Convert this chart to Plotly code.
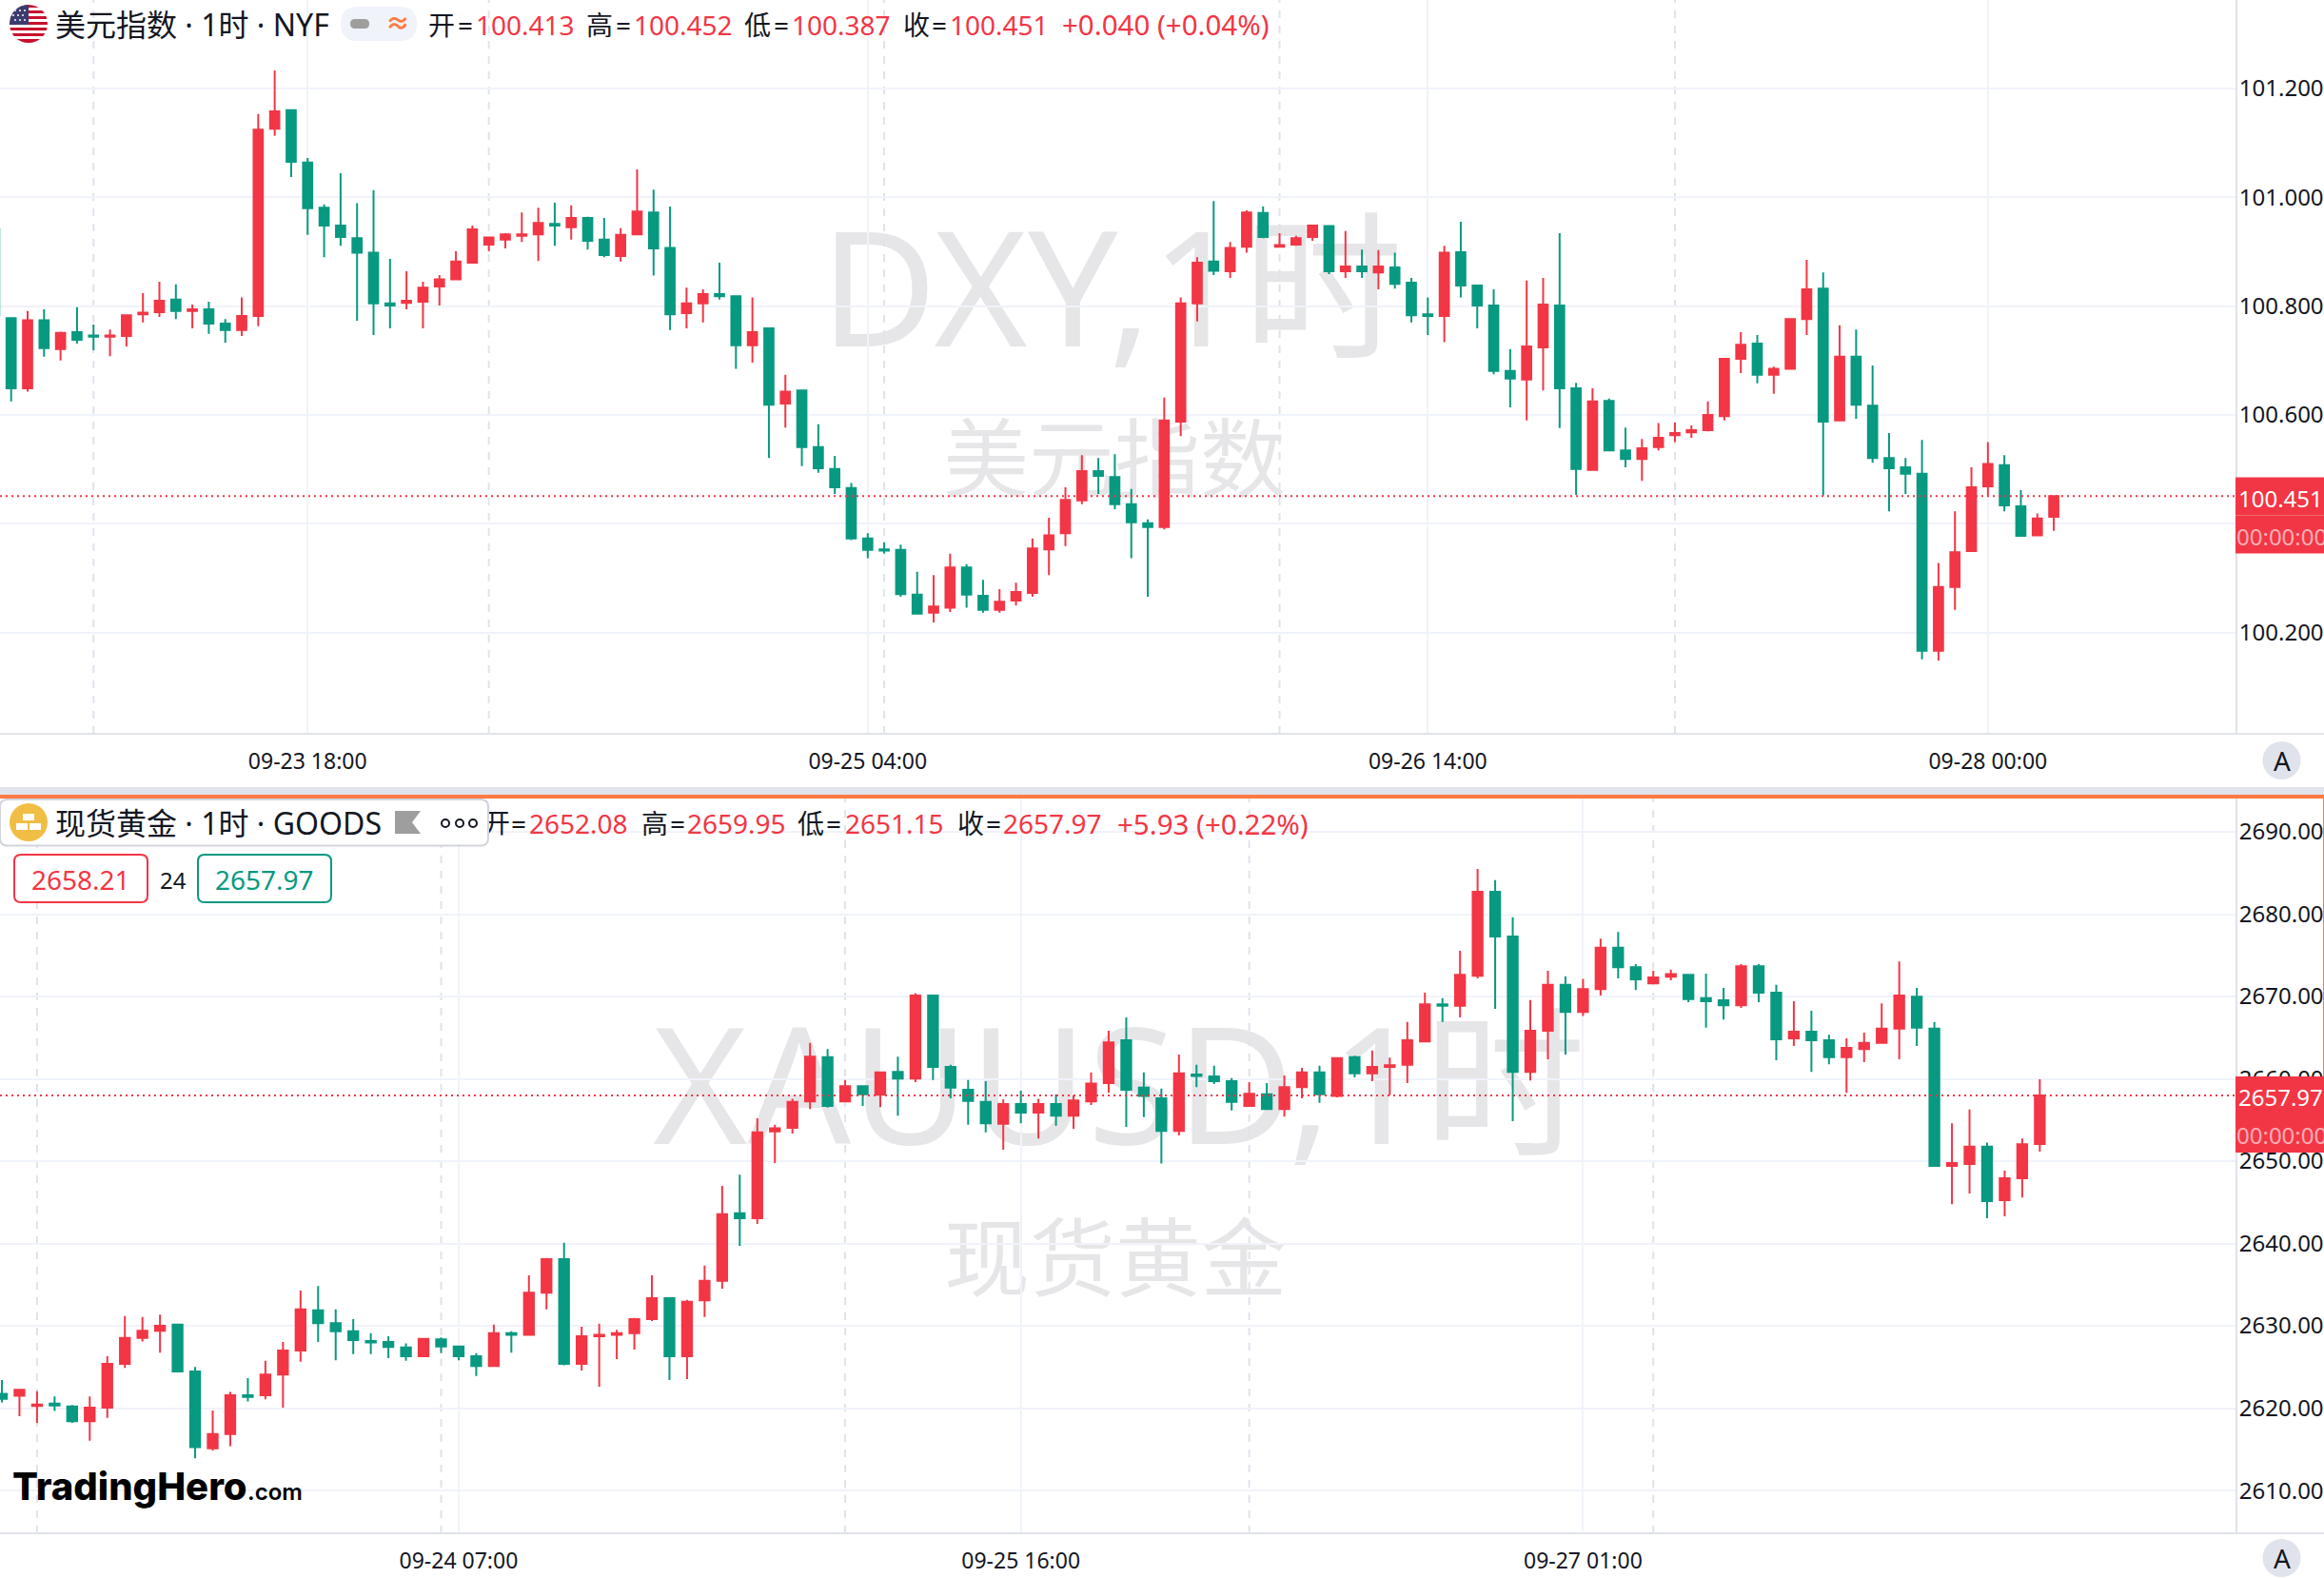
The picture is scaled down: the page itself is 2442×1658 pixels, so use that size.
import base64
import plotly.graph_objects as go

W, H = 2442, 1658

# ---------- data ----------
dxy_hours = list(range(-1, 125))
dxy_open = [
100.941,100.778,100.649,100.774,100.721,100.752,100.746,100.744,100.745,100.785,
100.789,100.812,100.791,100.794,100.768,100.756,100.782,101.126,101.160,101.064,
100.981,100.948,100.925,100.898,100.805,100.806,100.808,100.836,100.849,100.880,
100.913,100.922,100.929,100.932,100.951,100.945,100.962,100.922,100.892,100.932,
100.972,100.907,100.787,100.805,100.822,100.818,100.728,100.759,100.621,100.645,
100.541,100.501,100.466,100.373,100.353,100.352,100.270,100.237,100.246,100.320,
100.268,100.242,100.259,100.273,100.353,100.383,100.443,100.497,100.486,100.436,
100.401,100.394,100.588,100.805,100.882,100.864,100.909,100.971,100.909,100.913,
100.927,100.947,100.864,100.873,100.862,100.871,100.843,100.785,100.782,100.899,
100.838,100.801,100.681,100.665,100.724,100.801,100.649,100.499,100.626,100.535,
100.519,100.541,100.563,100.568,100.572,100.598,100.703,100.731,100.674,100.685,
100.776,100.832,100.590,100.707,100.617,100.521,100.504,100.492,100.167,100.284,
100.350,100.469,100.508,100.432,100.379,100.413]
dxy_high = [
100.941,100.779,100.791,100.794,100.753,100.798,100.766,100.757,100.783,100.824,
100.845,100.840,100.803,100.808,100.776,100.816,101.153,101.233,101.160,101.072,
100.987,101.044,100.989,101.013,100.887,100.864,100.845,100.857,100.901,100.948,
100.926,100.934,100.972,100.981,100.990,100.985,100.964,100.962,100.943,101.051,
101.014,100.983,100.834,100.831,100.880,100.818,100.816,100.759,100.674,100.645,
100.583,100.525,100.475,100.383,100.366,100.362,100.312,100.306,100.345,100.326,
100.297,100.280,100.292,100.373,100.411,100.467,100.526,100.521,100.528,100.464,
100.408,100.632,100.816,100.890,100.993,100.918,100.976,100.983,100.934,100.929,
100.949,100.949,100.938,100.904,100.903,100.898,100.852,100.816,100.911,100.955,
100.838,100.831,100.721,100.847,100.852,100.934,100.659,100.649,100.630,100.577,
100.556,100.585,100.586,100.581,100.625,100.705,100.752,100.747,100.689,100.778,
100.885,100.862,100.765,100.757,100.691,100.567,100.521,100.554,100.328,100.423,
100.504,100.550,100.526,100.462,100.419,100.452]
dxy_low = [
100.778,100.625,100.643,100.707,100.700,100.731,100.719,100.708,100.726,100.770,
100.780,100.776,100.759,100.749,100.733,100.745,100.763,101.113,101.037,100.931,
100.890,100.911,100.773,100.747,100.759,100.794,100.759,100.801,100.849,100.880,
100.901,100.906,100.918,100.883,100.911,100.922,100.904,100.890,100.882,100.932,
100.856,100.756,100.759,100.770,100.812,100.685,100.696,100.521,100.577,100.506,
100.494,100.455,100.370,100.337,100.345,100.266,100.235,100.219,100.238,100.246,
100.237,100.237,100.250,100.266,100.306,100.359,100.436,100.455,100.427,100.337,
100.266,100.390,100.561,100.772,100.857,100.852,100.898,100.925,100.909,100.911,
100.920,100.859,100.852,100.852,100.831,100.832,100.770,100.747,100.734,100.816,
100.759,100.675,100.614,100.590,100.645,100.576,100.453,100.499,100.534,100.504,
100.479,100.535,100.550,100.558,100.570,100.590,100.677,100.658,100.639,100.685,
100.747,100.452,100.590,100.593,100.512,100.423,100.455,100.151,100.149,100.242,
100.350,100.452,100.423,100.378,100.377,100.387]
dxy_close = [
100.783,100.649,100.774,100.723,100.751,100.738,100.744,100.746,100.783,100.788,
100.810,100.791,100.794,100.768,100.756,100.782,101.124,101.158,101.065,100.980,
100.948,100.927,100.898,100.805,100.801,100.810,100.834,100.849,100.882,100.941,
100.926,100.932,100.932,100.953,100.948,100.962,100.920,100.894,100.931,100.974,
100.906,100.785,100.805,100.822,100.818,100.728,100.752,100.619,100.643,100.541,
100.502,100.467,100.373,100.352,100.351,100.271,100.235,100.248,100.320,100.270,
100.242,100.257,100.275,100.355,100.379,100.444,100.497,100.488,100.436,100.403,
100.394,100.590,100.805,100.880,100.865,100.907,100.972,100.927,100.912,100.925,
100.948,100.864,100.873,100.864,100.873,100.841,100.783,100.782,100.898,100.838,
100.801,100.681,100.667,100.726,100.803,100.649,100.501,100.625,100.535,100.519,
100.539,100.558,100.567,100.572,100.600,100.703,100.729,100.674,100.685,100.776,
100.831,100.588,100.707,100.619,100.521,100.502,100.492,100.167,100.284,100.348,
100.467,100.510,100.434,100.378,100.410,100.451]

gold_open = [
2621.75,2621.50,2620.26,2620.57,2620.20,2618.41,2620.08,2625.39,2628.54,2629.40,
2630.15,2624.46,2615.14,2616.87,2621.56,2621.56,2624.09,2627.00,2631.88,2630.33,
2629.34,2628.17,2628.05,2627.37,2626.32,2628.35,2627.49,2626.32,2625.14,2629.10,
2628.91,2634.04,2638.11,2625.39,2628.73,2628.91,2629.10,2630.83,2633.36,2626.32,
2633.11,2635.46,2643.67,2643.06,2653.62,2654.05,2657.26,2662.64,2657.26,2659.12,
2658.07,2660.85,2660.04,2670.11,2661.46,2658.68,2657.20,2654.54,2656.95,2655.90,
2656.95,2655.53,2657.26,2659.49,2664.68,2658.93,2657.63,2653.68,2660.54,2660.29,
2659.73,2656.71,2658.13,2656.34,2658.99,2660.78,2657.94,2662.64,2660.66,2661.46,
2661.71,2664.55,2669.06,2668.88,2672.52,2682.71,2677.28,2660.85,2665.85,2671.41,
2668.13,2670.91,2675.92,2673.57,2671.59,2672.40,2672.64,2669.80,2669.55,2668.94,
2673.69,2670.48,2664.92,2665.73,2664.68,2662.64,2663.63,2664.37,2666.10,2669.99,
2666.10,2649.42,2649.67,2651.77,2645.28,2647.94,2652.08]
gold_high = [
2623.41,2622.30,2622.05,2621.44,2620.39,2621.44,2626.32,2631.20,2631.07,2631.38,
2630.15,2625.02,2619.71,2621.99,2623.66,2625.76,2628.05,2634.29,2634.84,2632.00,
2630.83,2629.10,2628.73,2627.86,2628.54,2628.60,2627.49,2626.69,2630.15,2629.34,
2636.14,2638.24,2640.09,2629.90,2630.27,2629.53,2630.95,2636.14,2633.36,2633.17,
2637.31,2647.01,2648.37,2655.22,2654.42,2657.57,2664.37,2663.63,2659.86,2659.18,
2660.85,2662.70,2670.42,2670.24,2661.71,2659.86,2659.73,2657.51,2658.56,2657.57,
2658.13,2658.00,2660.78,2665.85,2667.46,2660.78,2658.81,2662.95,2661.71,2661.59,
2660.10,2659.61,2659.49,2660.41,2661.34,2661.59,2662.51,2662.82,2663.44,2662.58,
2666.90,2670.48,2669.80,2675.55,2685.49,2684.13,2679.62,2669.56,2673.14,2672.46,
2672.15,2677.03,2677.83,2673.94,2673.14,2673.26,2672.64,2672.77,2671.04,2673.94,
2673.94,2671.41,2669.43,2668.26,2665.35,2664.92,2665.60,2669.18,2674.25,2671.04,
2666.90,2654.61,2656.27,2652.26,2648.86,2652.75,2659.95]
gold_low = [
2620.70,2619.03,2618.22,2619.65,2618.22,2616.06,2618.84,2624.90,2628.11,2626.75,
2624.46,2613.90,2614.83,2615.38,2620.82,2621.07,2620.08,2625.64,2628.05,2625.82,
2626.56,2626.56,2626.07,2625.76,2626.19,2626.69,2625.82,2623.91,2625.02,2626.75,
2628.91,2632.00,2625.20,2624.59,2622.61,2625.95,2627.12,2630.58,2623.41,2623.54,
2631.07,2634.53,2639.72,2642.38,2649.79,2653.37,2656.34,2656.52,2657.26,2656.71,
2656.58,2655.53,2659.61,2659.86,2657.63,2654.42,2653.50,2651.39,2654.61,2652.75,
2654.30,2653.93,2656.83,2658.31,2654.17,2655.35,2649.73,2653.12,2658.99,2659.36,
2656.15,2656.71,2656.21,2655.41,2657.63,2657.08,2657.76,2660.17,2659.73,2658.00,
2659.49,2664.55,2666.90,2667.46,2672.21,2668.50,2654.85,2659.80,2662.39,2662.95,
2667.64,2670.11,2672.21,2670.79,2671.59,2671.96,2669.31,2666.22,2667.21,2668.63,
2669.31,2662.27,2664.00,2660.85,2661.77,2658.31,2662.02,2664.37,2662.39,2664.00,
2649.42,2644.79,2646.08,2643.06,2643.30,2645.59,2651.15]
gold_close = [
2621.13,2622.24,2620.45,2620.32,2618.41,2620.08,2625.39,2628.54,2629.40,2630.02,
2624.46,2615.26,2616.87,2621.56,2621.38,2624.09,2627.00,2632.00,2630.33,2629.34,
2628.29,2627.98,2627.43,2626.32,2628.42,2627.49,2626.32,2625.14,2629.10,2628.91,
2634.04,2638.11,2625.39,2628.73,2628.91,2629.10,2630.83,2633.36,2626.32,2632.93,
2635.46,2643.55,2643.06,2653.50,2653.99,2657.20,2662.70,2656.71,2659.12,2658.13,
2660.78,2660.04,2670.11,2661.46,2658.93,2657.32,2654.61,2656.95,2655.90,2656.95,
2655.53,2657.39,2659.43,2664.43,2658.68,2657.94,2653.68,2660.66,2660.35,2659.73,
2657.20,2658.19,2656.34,2658.99,2660.78,2658.13,2662.51,2660.66,2661.46,2661.65,
2664.68,2669.06,2668.88,2672.64,2682.71,2677.28,2660.85,2665.85,2671.41,2668.13,
2670.91,2675.92,2673.57,2672.09,2672.33,2672.71,2669.68,2669.43,2668.94,2673.69,
2670.48,2664.80,2665.73,2664.68,2662.64,2663.75,2664.37,2666.10,2670.11,2666.22,
2649.42,2649.79,2651.77,2645.16,2647.94,2652.07,2657.97]
gold_bars = list(range(len(gold_open)))

dxy_tick_bars = [18, 52, 86, 120]
dxy_tick_text = ["09-23 18:00", "09-25 04:00", "09-26 14:00", "09-28 00:00"]
dxy_session_bars = [5, 29, 53, 77, 101]
dxy_price_ticks = [100.2, 100.4, 100.6, 100.8, 101.0, 101.2]
dxy_price_labels = ["100.200", "", "100.600", "100.800", "101.000", "101.200"]
gold_tick_bars = [26, 58, 90]
gold_tick_text = ["09-24 07:00", "09-25 16:00", "09-27 01:00"]
gold_session_bars = [2, 25, 48, 71, 94]
gold_price_ticks = [2610, 2620, 2630, 2640, 2650, 2660, 2670, 2680, 2690]
dxy_last = 100.451
gold_last = 2657.97

# ---------- style ----------
RED, GREEN = "#F23645", "#089981"
INK = "#131722"
GRID, LINE = "#F0F3FA", "#E0E3EB"
ORANGE = "#FF7A45"
FONT = "Noto Sans, Noto Sans CJK SC, sans-serif"
AXIS_X = 2349
TOP_BOTTOM, GOLD_TOP, GOLD_BOTTOM = 771, 839, 1611


def px(x):
    return x / W


def py(y):
    return 1 - y / H


fig = go.Figure()
for name, xs, o, h, l, c, xa, ya in [
    ("DXY", dxy_hours, dxy_open, dxy_high, dxy_low, dxy_close, "x", "y"),
    ("XAUUSD", gold_bars, gold_open, gold_high, gold_low, gold_close, "x2", "y2"),
]:
    fig.add_trace(go.Candlestick(
        x=xs, open=o, high=h, low=l, close=c, name=name, xaxis=xa, yaxis=ya,
        increasing=dict(line=dict(color=RED, width=2), fillcolor=RED),
        decreasing=dict(line=dict(color=GREEN, width=2), fillcolor=GREEN),
        whiskerwidth=0, showlegend=False, hoverinfo="skip",
    ))

xcommon = dict(
    domain=[0, px(AXIS_X)], showgrid=True, gridcolor=GRID, gridwidth=2, zeroline=False,
    showline=False, ticks="outside", ticklen=8, tickcolor="rgba(0,0,0,0)",
    tickfont=dict(family=FONT, size=23, color=INK), rangeslider=dict(visible=False),
    tickmode="array",
)
ycommon = dict(
    side="right", showgrid=True, gridcolor=GRID, gridwidth=2, zeroline=False,
    showline=True, linecolor=LINE, linewidth=2, ticks="", tickmode="array",
    ticklabelstandoff=-3,
    tickfont=dict(family=FONT, size=24, color=INK),
)

shapes, ann = [], []


def rect(x0, y0, x1, y1, fill, layer="above", line=None, **kw):
    shapes.append(dict(type="rect", xref="paper", yref="paper", x0=px(x0), x1=px(x1), y0=py(y0), y1=py(y1),
                       fillcolor=fill, line=line or dict(width=0), layer=layer, **kw))


def rrect(x0, y0, x1, y1, r, fill, line=None, layer="above"):
    a, b, c, d = px(x0), px(x1), py(y0), py(y1)
    rx, ry = r / W, r / H
    p = (f"M {a+rx} {c} L {b-rx} {c} Q {b} {c} {b} {c-ry} L {b} {d+ry} Q {b} {d} {b-rx} {d} "
         f"L {a+rx} {d} Q {a} {d} {a} {d+ry} L {a} {c-ry} Q {a} {c} {a+rx} {c} Z")
    shapes.append(dict(type="path", xref="paper", yref="paper", path=p, fillcolor=fill,
                       line=line or dict(width=0), layer=layer))


def circle(cx, cy, r, fill, line=None):
    shapes.append(dict(type="circle", xref="paper", yref="paper", x0=px(cx - r), x1=px(cx + r),
                       y0=py(cy + r), y1=py(cy - r), fillcolor=fill, line=line or dict(width=0), layer="above"))


def txt(x, y, s, size=28, color=INK, anchor="left", family=FONT, weight=None):
    f = dict(family=family, size=size, color=color)
    if weight:
        f["weight"] = weight
    ann.append(dict(xref="paper", yref="paper", x=px(x), y=py(y), text=s, showarrow=False,
                    xanchor=anchor, yanchor="middle", font=f, borderpad=0, borderwidth=0))


def watermark(cx, cy, w, h, s, size):
    rect(cx - w / 2, cy - h / 2, cx + w / 2, cy + h / 2, "rgba(0,0,0,0)", layer="below",
         label=dict(text=s, textposition="middle center", padding=0,
                    font=dict(family=FONT, size=size, color="rgba(19,23,34,0.105)")))


watermark(1168, 310, 900, 220, "DXY,1时", 168)
watermark(1171, 486, 600, 120, "美元指数", 90)
watermark(1176, 1148, 1200, 220, "XAUUSD,1时", 170)
watermark(1172, 1326, 600, 120, "现货黄金", 90)

for bar in dxy_session_bars:
    shapes.append(dict(type="line", xref="x", yref="y domain", x0=bar, x1=bar, y0=0, y1=1, layer="below",
                       line=dict(color=LINE, width=2, dash="8px,8px")))
for bar in gold_session_bars:
    shapes.append(dict(type="line", xref="x2", yref="y2 domain", x0=bar, x1=bar, y0=0, y1=1, layer="below",
                       line=dict(color=LINE, width=2, dash="8px,8px")))

# last-price dotted lines
shapes.append(dict(type="line", xref="x domain", yref="y", x0=0, x1=1, y0=dxy_last, y1=dxy_last, layer="above",
                   line=dict(color=RED, width=2, dash="2px,4px")))
shapes.append(dict(type="line", xref="x2 domain", yref="y2", x0=0, x1=1, y0=gold_last, y1=gold_last, layer="above",
                   line=dict(color=RED, width=2, dash="2px,4px")))

# pane frames
rect(0, TOP_BOTTOM - 1, W, TOP_BOTTOM + 1, LINE)
rect(0, GOLD_BOTTOM - 1, W, GOLD_BOTTOM + 1, LINE)
rect(0, 827, W, 835, LINE)
rect(0, 835, W, 839, ORANGE)
rect(W - 1, 839, W, 1135, ORANGE)

# price tags
rect(AXIS_X, 501.5, W, 581.5, RED)
rect(AXIS_X, 541, W, 542, "rgba(255,255,255,0.25)")
rect(AXIS_X, 1131, W, 1211, RED)
txt(2352, 523, f"{dxy_last:.3f}", 24, "#FFFFFF")
txt(2350, 564, "00:00:00", 24, "rgba(255,255,255,0.6)")
txt(2352, 1152, f"{gold_last:.2f}", 24, "#FFFFFF")
txt(2350, 1192, "00:00:00", 24, "rgba(255,255,255,0.6)")

# A buttons
for cy in (799, 1637):
    circle(2397.5, cy, 20, LINE)
    txt(2397.5, cy, "A", 28, INK, "center")

# top legend
txt(57.7, 25, "美元指数 · 1时 · NYF", 32)
rrect(358, 7, 438, 43, 18, GRID)
rrect(368, 20, 388, 30, 5, "#9E9E9E")
txt(418, 24, "≈", 26, ORANGE, "center", weight=700)
for x, s, c, size in [(450, "开", INK, 28), (480.5, "=", INK, 28), (500, "100.413", RED, 28),
                      (616, "高", INK, 28), (646.5, "=", INK, 28), (666, "100.452", RED, 28),
                      (782, "低", INK, 28), (812.5, "=", INK, 28), (832, "100.387", RED, 28),
                      (949, "收", INK, 28), (979, "=", INK, 28), (998, "100.451", RED, 28),
                      (1116, "+0.040 (+0.04%)", RED, 29.5)]:
    txt(x, 26, s, size, c)

# gold legend: the "开" sits partly behind the rounded box
rect(505, 848, 556, 884, "rgba(0,0,0,0)",
     label=dict(text="开", textposition="middle left", padding=0,
                font=dict(family=FONT, size=28, color=INK)))
rrect(0, 840, 513, 888.5, 8, "#FFFFFF", line=dict(color="#D1D4DC", width=2))
circle(30, 864, 20, "#F0BE45")
rect(24, 855, 36, 862, "#FFFFFF")
rect(17, 865, 29, 872, "#FFFFFF")
rect(31, 865, 43, 872, "#FFFFFF")
shapes.append(dict(type="path", xref="paper", yref="paper", fillcolor="#9E9E9E", line=dict(width=0), layer="above",
                   path=f"M {px(415)} {py(852)} L {px(442)} {py(852)} L {px(433)} {py(864)} "
                        f"L {px(442)} {py(876)} L {px(415)} {py(876)} Z"))
for x in (468, 483, 497):
    circle(x, 865, 4, "#FFFFFF", dict(color=INK, width=2))
txt(57.7, 864, "现货黄金 · 1时 · GOODS", 32)
for x, s, c, size in [(537, "=", INK, 28), (556, "2652.08", RED, 28),
                      (673.5, "高", INK, 28), (703.5, "=", INK, 28), (722, "2659.95", RED, 28),
                      (838, "低", INK, 28), (868, "=", INK, 28), (888, "2651.15", RED, 28),
                      (1005.6, "收", INK, 28), (1035.6, "=", INK, 28), (1054, "2657.97", RED, 28),
                      (1173.5, "+5.93 (+0.22%)", RED, 29.5)]:
    txt(x, 865, s, size, c)

# bid / ask boxes
rrect(15, 898, 155, 948, 7, "#FFFFFF", line=dict(color=RED, width=2))
rrect(208, 898, 348, 948, 7, "#FFFFFF", line=dict(color=GREEN, width=2))
txt(85, 924, "2658.21", 28, RED, "center")
txt(182, 924, "24", 24, INK, "center")
txt(278, 924, "2657.97", 28, GREEN, "center")

# logo
txt(13, 1561, "TradingHero", 40, "#000000", "left", "Inter", 800)
txt(260, 1567, ".com", 24, "#000000", "left", "Inter", 600)

flag = """<svg xmlns="http://www.w3.org/2000/svg" viewBox="0 0 40 40"><defs><clipPath id="c"><circle cx="20" cy="20" r="20"/></clipPath></defs>
<g clip-path="url(#c)"><rect width="40" height="40" fill="#fff"/>
<rect y="0" width="40" height="3" fill="#C8102E"/><rect y="6" width="40" height="3" fill="#C8102E"/>
<rect y="12" width="40" height="3" fill="#C8102E"/><rect y="18" width="40" height="3" fill="#C8102E"/>
<rect y="24" width="40" height="3" fill="#C8102E"/><rect y="30" width="40" height="3" fill="#C8102E"/>
<rect y="36" width="40" height="4" fill="#C8102E"/><rect width="20" height="21" fill="#3C3B6E"/>
<g fill="#fff"><circle cx="6" cy="6" r="1"/><circle cx="11" cy="6" r="1"/><circle cx="16" cy="6" r="1"/>
<circle cx="4" cy="11" r="1"/><circle cx="9" cy="11" r="1"/><circle cx="14" cy="11" r="1"/>
<circle cx="6" cy="16" r="1"/><circle cx="11" cy="16" r="1"/><circle cx="16" cy="16" r="1"/></g></g></svg>"""
flag_src = "data:image/svg+xml;base64," + base64.b64encode(flag.encode()).decode()

fig.update_layout(
    width=W, height=H, margin=dict(l=0, r=0, t=0, b=0), autosize=False,
    paper_bgcolor="#FFFFFF", plot_bgcolor="rgba(0,0,0,0)",
    boxgap=0.2, boxgroupgap=0.3, showlegend=False,
    xaxis=dict(xcommon, anchor="y", range=[-0.676, 135.03], tickvals=dxy_tick_bars, ticktext=dxy_tick_text),
    xaxis2=dict(xcommon, anchor="y2", range=[-0.108, 127.14], tickvals=gold_tick_bars, ticktext=gold_tick_text),
    yaxis=dict(ycommon, anchor="x", domain=[py(TOP_BOTTOM), 1], range=[100.0143, 101.3624],
               tickvals=dxy_price_ticks, ticktext=dxy_price_labels),
    yaxis2=dict(ycommon, anchor="x2", domain=[py(GOLD_BOTTOM), py(GOLD_TOP)], range=[2604.81, 2694.05],
                tickvals=gold_price_ticks, ticktext=[f"{v:.2f}" for v in gold_price_ticks]),
    shapes=shapes, annotations=ann,
    images=[dict(source=flag_src, xref="paper", yref="paper", x=px(10), y=py(5), sizex=40 / W, sizey=40 / H,
                 xanchor="left", yanchor="top", sizing="stretch", layer="above")],
)

fig.write_html("out.html", config=dict(displayModeBar=False, responsive=False),
               post_script="document.body.style.margin='0';document.documentElement.style.overflow='hidden';")
